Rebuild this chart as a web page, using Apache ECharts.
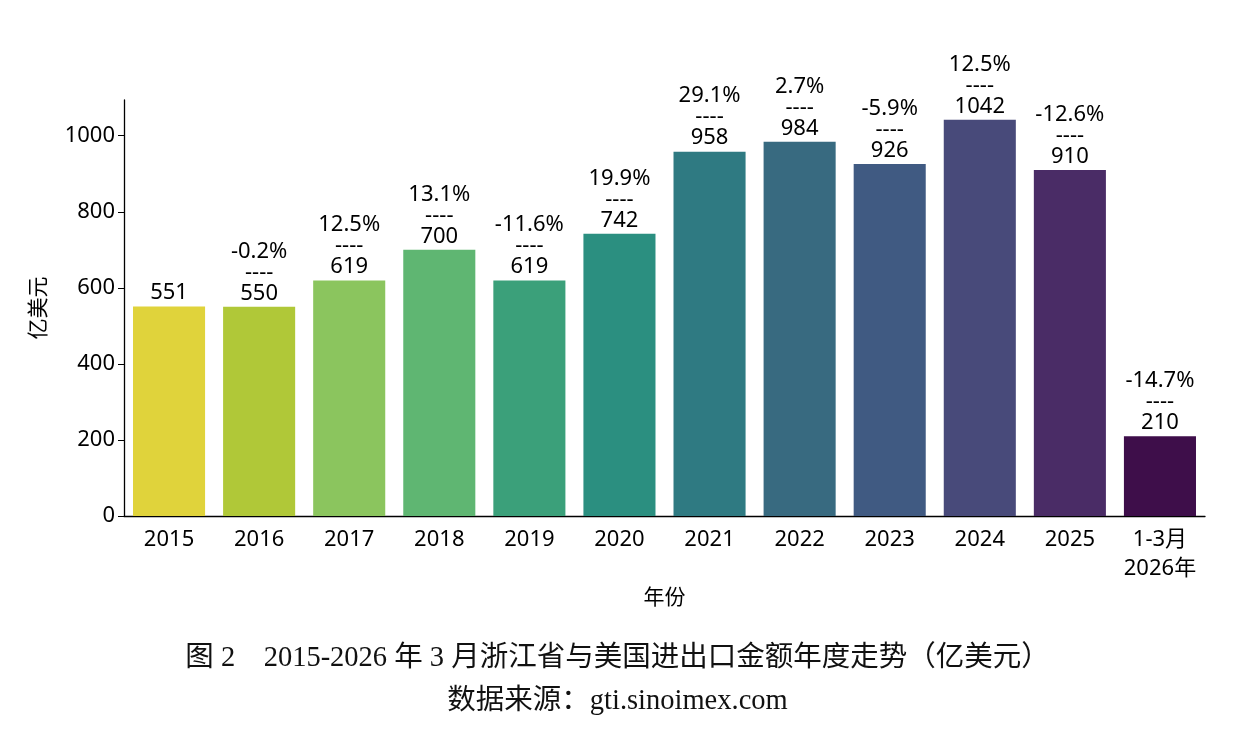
<!DOCTYPE html>
<html>
<head>
<meta charset="utf-8">
<script src="https://cdn.jsdelivr.net/npm/echarts@6/dist/echarts.min.js"></script>
<style>
  html, body { margin: 0; padding: 0; background: #fff; }
  #chart { width: 1235px; height: 738px; }
</style>
</head>
<body>
<div id="chart"></div>
<script>
// данные
const years = ['2015', '2016', '2017', '2018', '2019', '2020', '2021', '2022', '2023', '2024', '2025', '1-3月\n2026年']
const values = [551, 550, 619, 700, 619, 742, 958, 984, 926, 1042, 910, 210]
const growth = ['', '-0.2%', '12.5%', '13.1%', '-11.6%', '19.9%', '29.1%', '2.7%', '-5.9%', '12.5%', '-12.6%', '-14.7%']
const colors = ['#e0d33b', '#b0c838', '#8bc55e', '#5fb672', '#3ba07a', '#2b8f80', '#2f7a82', '#386a80', '#405a82', '#484a7a', '#4a2c66', '#3e0e4a']

const font = '"Noto Sans", "Noto Sans CJK SC", sans-serif'
const serif = '"Liberation Serif", "Noto Sans CJK SC", serif'
const chart = echarts.init(document.getElementById('chart'))

const option = {
  animation: false,
  textStyle: { fontFamily: font, color: '#000' },
  title: [
    {
      text: '图 2　2015-2026 年 3 月浙江省与美国进出口金额年度走势（亿美元）',
      left: 'center',
      top: 639,
      textStyle: { fontFamily: serif, fontWeight: 'normal', fontSize: 28.5, color: '#111' }
    },
    {
      text: '数据来源：gti.sinoimex.com',
      left: 'center',
      top: 682,
      textStyle: { fontFamily: serif, fontWeight: 'normal', fontSize: 28.5, color: '#111' }
    }
  ],
  grid: { left: 124, right: 30, top: 100, bottom: 222 },
  xAxis: {
    type: 'category',
    data: years,
    name: '年份',
    nameLocation: 'middle',
    nameGap: 70,
    nameTextStyle: { fontSize: 21, color: '#000', fontFamily: font },
    axisLine: { lineStyle: { color: '#000', width: 1.3 } },
    axisTick: { alignWithLabel: true, length: 6, lineStyle: { color: '#000' } },
    axisLabel: { interval: 0, fontSize: 22, color: '#000', margin: 9, lineHeight: 29, fontFamily: font }
  },
  yAxis: {
    type: 'value',
    min: 0,
    max: 1094,
    interval: 200,
    name: '亿美元',
    nameLocation: 'middle',
    nameGap: 74,
    nameTextStyle: { fontSize: 21, color: '#000', fontFamily: font },
    axisLine: { show: true, lineStyle: { color: '#000', width: 1.3 } },
    axisTick: { show: true, length: 6, lineStyle: { color: '#000' } },
    axisLabel: {
      fontSize: 22, color: '#000', margin: 9, fontFamily: font,
      showMaxLabel: false,
      formatter: v => String(v)
    },
    splitLine: { show: false }
  },
  series: [{
    type: 'bar',
    barCategoryGap: '20%',
    data: values.map((v, i) => ({ value: v, itemStyle: { color: colors[i] } })),
    label: {
      show: true,
      position: 'top',
      distance: 3,
      fontSize: 22,
      lineHeight: 21,
      color: '#000',
      fontFamily: font,
      formatter: p => growth[p.dataIndex] ? growth[p.dataIndex] + '\n----\n' + p.value : String(p.value)
    }
  }]
}

chart.setOption(option)
</script>
</body>
</html>
